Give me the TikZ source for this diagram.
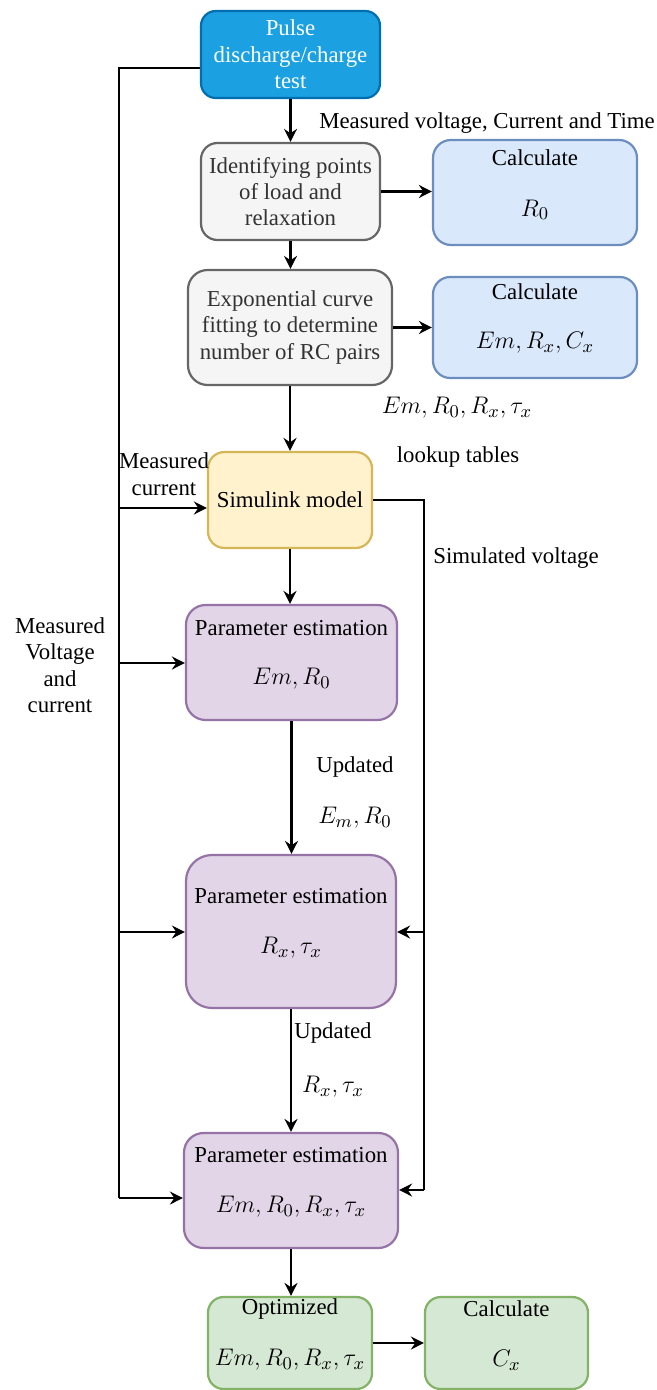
\documentclass[tikz,border=0pt]{standalone}
\usepackage{fontspec}
\setmainfont{Liberation Serif}
\usetikzlibrary{arrows.meta}

\definecolor{pulsefill}{HTML}{1BA1E2}
\definecolor{pulsedraw}{HTML}{006EAF}
\definecolor{grayfill}{HTML}{F5F5F5}
\definecolor{graydraw}{HTML}{666666}
\definecolor{graytext}{HTML}{333333}
\definecolor{bluefill}{HTML}{DAE8FC}
\definecolor{bluedraw}{HTML}{6C8EBF}
\definecolor{yellowfill}{HTML}{FFF2CC}
\definecolor{yellowdraw}{HTML}{D6B656}
\definecolor{purplefill}{HTML}{E1D5E7}
\definecolor{purpledraw}{HTML}{9673A6}
\definecolor{greenfill}{HTML}{D5E8D4}
\definecolor{greendraw}{HTML}{82B366}

\begin{document}
\begin{tikzpicture}[x=0.5pt,y=-0.5pt,
  font=\fontsize{11.4}{13.2}\selectfont,
  box/.style={draw, line width=1.1pt, inner sep=0pt, align=center},
  pulsebox/.style={box, fill=pulsefill, draw=pulsedraw, text=white},
  graybox/.style={box, fill=grayfill, draw=graydraw, text=graytext},
  bluebox/.style={box, fill=bluefill, draw=bluedraw},
  yellowbox/.style={box, fill=yellowfill, draw=yellowdraw},
  purplebox/.style={box, fill=purplefill, draw=purpledraw},
  greenbox/.style={box, fill=greenfill, draw=greendraw},
  txt/.style={inner sep=0pt, align=center},
  mtxt/.style={txt, font=\fontsize{12.6}{14}\selectfont},
  wire/.style={line width=1.2pt, line join=miter},
  arr/.style={wire, -{Stealth[length=6.5pt,width=6.5pt,inset=2.2pt]}}
]
\useasboundingbox (0,0) rectangle (657,1390);

% ---- process boxes ----
\node[pulsebox, minimum width=89.5pt, minimum height=43.5pt, rounded corners=7.4pt]
  (pulse) at (290.5,54.5) {Pulse\\discharge/charge\\test};
\node[graybox, minimum width=89.5pt, minimum height=48.5pt, rounded corners=8.2pt]
  (ident) at (290.5,191.5) {Identifying points\\of load and\\relaxation};
\node[bluebox, minimum width=102pt, minimum height=52.5pt, rounded corners=9pt]
  (calcr) at (535,192.5) {};
\node[graybox, minimum width=102pt, minimum height=57.5pt, rounded corners=9.8pt]
  (expo) at (290,327.5) {Exponential curve\\fitting to determine\\number of RC pairs};
\node[bluebox, minimum width=102pt, minimum height=50.5pt, rounded corners=8.6pt]
  (calce) at (535,327.5) {};
\node[yellowbox, minimum width=82pt, minimum height=48pt, rounded corners=8.2pt]
  (sim) at (290,500) {Simulink model};
\node[purplebox, minimum width=105.5pt, minimum height=57.5pt, rounded corners=9.8pt]
  (pe1) at (291.5,662.5) {};
\node[purplebox, minimum width=105pt, minimum height=76.5pt, rounded corners=13pt]
  (pe2) at (291,931.5) {};
\node[purplebox, minimum width=107pt, minimum height=57.5pt, rounded corners=9.8pt]
  (pe3) at (291,1190.5) {};
\node[greenbox, minimum width=82pt, minimum height=46pt, rounded corners=7.8pt]
  (opt) at (290,1343) {};
\node[greenbox, minimum width=81.5pt, minimum height=46pt, rounded corners=7.8pt]
  (calcc) at (506.5,1343) {};

% ---- box contents ----
\node[txt] (calcrt) at (535,158) {Calculate};
\node[mtxt] (calcrm) at (535,210) {$R_0$};
\node[txt] (calcet) at (535,292) {Calculate};
\node[mtxt] (calcem) at (535,343) {$Em, R_x, C_x$};
\node[txt] (pe1t) at (291.5,628) {Parameter estimation};
\node[mtxt] (pe1m) at (291.5,679) {$Em, R_0$};
\node[txt] (pe2t) at (291,896) {Parameter estimation};
\node[mtxt] (pe2m) at (291,948) {$R_x, \tau_x$};
\node[txt] (pe3t) at (291,1155) {Parameter estimation};
\node[mtxt] (pe3m) at (291,1207) {$Em, R_0, R_x, \tau_x$};
\node[txt] (optt) at (290,1309) {Optimized};
\node[mtxt] (optm) at (290,1360) {$Em, R_0, R_x, \tau_x$};
\node[txt] (calcct) at (506.5,1309) {Calculate};
\node[mtxt] (calccm) at (506.5,1360) {$C_x$};

% ---- main chain ----
\draw[arr] (pulse.south) -- (pulse.south |- ident.north);
\draw[arr] (ident.south) -- (ident.south |- expo.north);
\draw[arr] (expo.south) -- (expo.south |- sim.north);
\draw[arr] (sim.south) -- (sim.south |- pe1.north);
\draw[arr] (pe1.south) -- (pe1.south |- pe2.north);
\draw[arr] (pe2.south) -- (pe2.south |- pe3.north);
\draw[arr] (pe3.south) -- (pe3.south |- opt.north);
\draw[arr] (ident.east) -- (ident.east -| calcr.west);
\draw[arr] (expo.east) -- (expo.east -| calce.west);
\draw[arr] (opt.east) -- (opt.east -| calcc.west);

% ---- measured data bus (left) ----
\coordinate (ltop) at (119,68);
\coordinate (l1) at (119,508);
\coordinate (l2) at (119,663);
\coordinate (l3) at (119,932);
\coordinate (lbot) at (119,1198);
\draw[wire] (ltop -| pulse.west) -- (ltop) -- (lbot);
\draw[arr] (l1) -- (l1 -| sim.west);
\draw[arr] (l2) -- (l2 -| pe1.west);
\draw[arr] (l3) -- (l3 -| pe2.west);
\draw[arr] (lbot) -- (lbot -| pe3.west);

% ---- simulated voltage bus (right) ----
\coordinate (rtop) at (424,500);
\coordinate (r2) at (424,932);
\coordinate (rbot) at (424,1190);
\draw[wire] (sim.east) -- (rtop) -- (rbot);
\draw[arr] (r2) -- (r2 -| pe2.east);
\draw[arr] (rbot) -- (rbot -| pe3.east);

% ---- labels ----
\node[txt] (lmv) at (487,123) {Measured voltage, Current and Time};
\node[mtxt] (lpar) at (457,408) {$Em, R_0, R_x, \tau_x$};
\node[txt] (llut) at (458,457) {lookup tables};
\node[txt] (lmc) at (164,474) {Measured\\current};
\node[txt] (lsv) at (516,558) {Simulated voltage};
\node[txt] (lmvc) at (60,665) {Measured\\Voltage\\and\\current};
\node[txt] (lu1) at (355,767) {Updated};
\node[mtxt] (lu1m) at (355,818) {$E_m, R_0$};
\node[txt] (lu2) at (333,1033) {Updated};
\node[mtxt] (lu2m) at (333,1087) {$R_x, \tau_x$};
\end{tikzpicture}
\end{document}
